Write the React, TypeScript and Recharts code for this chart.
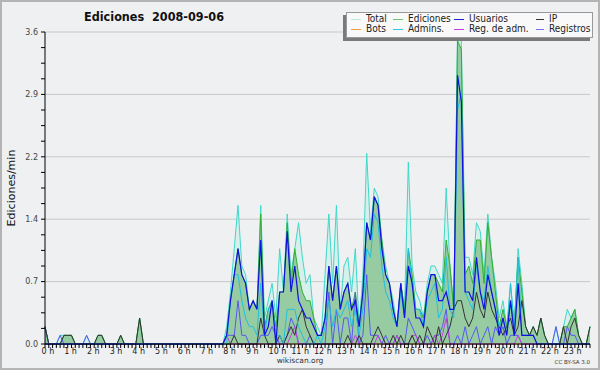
import React from "react";
import { ComposedChart, Area, Line, XAxis, YAxis, CartesianGrid } from "recharts";

// edits per 10-minute slot, one row per hour (6 slots), last value = 24:00
const total = [
  2, 0, 0, 0, 1, 1, 1, 1, 0, 0, 0, 1, 0, 0, 1, 1, 0, 0, 0, 0, 1, 0, 0, 0,
  0, 3, 0, 0, 0, 0, 0, 0, 0, 0, 0, 0, 0, 0, 0, 0, 0, 0, 0, 0, 0, 0, 0, 0,
  2, 6, 11, 16, 9, 8, 4, 5, 4, 16, 3, 5, 7, 3, 11, 6, 15, 8, 11, 14, 10, 7, 8, 3,
  2, 1, 8, 15, 7, 16, 4, 9, 10, 6, 11, 2, 8, 22, 13, 18, 17, 12, 9, 7, 5, 2, 7, 4,
  21, 9, 6, 5, 3, 7, 9, 9, 8, 7, 18, 9, 4, 36, 35, 10, 10, 8, 14, 13, 8, 15, 10, 7,
  3, 5, 2, 7, 2, 11, 7, 2, 1, 2, 1, 3, 1, 0, 0, 2, 0, 2, 4, 3, 4, 1, 0, 0,
  2,
];
const ediciones = [
  2, 0, 0, 0, 0, 1, 1, 1, 0, 0, 0, 0, 0, 0, 1, 1, 0, 0, 0, 0, 1, 0, 0, 0,
  0, 3, 0, 0, 0, 0, 0, 0, 0, 0, 0, 0, 0, 0, 0, 0, 0, 0, 0, 0, 0, 0, 0, 0,
  1, 5, 8, 11, 8, 7, 4, 5, 4, 15, 2, 4, 5, 2, 6, 6, 14, 7, 11, 8, 6, 5, 5, 3,
  1, 1, 3, 9, 5, 9, 4, 6, 7, 4, 6, 2, 6, 14, 12, 17, 16, 12, 8, 7, 4, 2, 7, 4,
  11, 8, 4, 4, 3, 6, 8, 8, 7, 6, 12, 9, 4, 35, 34, 8, 9, 7, 12, 12, 7, 14, 10, 6,
  2, 4, 2, 5, 2, 10, 6, 2, 1, 2, 1, 3, 1, 0, 0, 0, 0, 2, 2, 3, 4, 1, 0, 0,
  2,
];
const usuarios = [
  0, 0, 0, 0, 0, 0, 0, 0, 0, 0, 0, 0, 0, 0, 0, 0, 0, 0, 0, 0, 0, 0, 0, 0,
  0, 0, 0, 0, 0, 0, 0, 0, 0, 0, 0, 0, 0, 0, 0, 0, 0, 0, 0, 0, 0, 0, 0, 0,
  1, 5, 8, 11, 8, 7, 4, 5, 4, 12, 1, 2, 5, 0, 6, 6, 13, 6, 9, 5, 4, 3, 3, 2,
  1, 1, 3, 9, 5, 9, 4, 6, 7, 4, 5, 2, 6, 14, 12, 17, 16, 11, 8, 7, 4, 2, 7, 3,
  9, 7, 3, 3, 2, 6, 8, 8, 5, 5, 6, 4, 4, 31, 28, 6, 6, 5, 10, 6, 4, 8, 6, 4,
  1, 3, 1, 5, 1, 7, 1, 1, 1, 1, 0, 0, 0, 0, 0, 0, 0, 0, 0, 0, 0, 0, 0, 0,
  0,
];
const ip = [
  2, 0, 0, 0, 0, 1, 1, 1, 0, 0, 0, 0, 0, 0, 1, 1, 0, 0, 0, 0, 1, 0, 0, 0,
  0, 3, 0, 0, 0, 0, 0, 0, 0, 0, 0, 0, 0, 0, 0, 0, 0, 0, 0, 0, 0, 0, 0, 0,
  0, 0, 1, 0, 0, 0, 0, 0, 0, 3, 1, 0, 0, 0, 1, 0, 1, 2, 1, 3, 4, 2, 1, 0,
  0, 0, 0, 0, 0, 0, 0, 0, 1, 0, 0, 1, 0, 0, 0, 1, 2, 1, 0, 0, 1, 0, 1, 0,
  0, 1, 0, 1, 0, 2, 1, 0, 2, 0, 1, 2, 4, 5, 5, 3, 2, 3, 6, 4, 3, 6, 4, 3,
  2, 1, 2, 3, 1, 2, 5, 2, 1, 2, 1, 3, 1, 0, 0, 0, 0, 2, 0, 2, 3, 1, 0, 0,
  2,
];
const bots = [
  0, 0, 0, 0, 0, 0, 0, 0, 0, 0, 0, 0, 0, 0, 0, 0, 0, 0, 0, 0, 0, 0, 0, 0,
  0, 0, 0, 0, 0, 0, 0, 0, 0, 0, 0, 0, 0, 0, 0, 0, 0, 0, 0, 0, 0, 0, 0, 0,
  0, 0, 0, 0, 0, 0, 0, 0, 0, 0, 0, 0, 0, 0, 0, 0, 0, 0, 0, 0, 0, 0, 0, 0,
  0, 0, 0, 0, 0, 0, 0, 0, 0, 0, 0, 0, 0, 0, 0, 0, 0, 0, 0, 0, 0, 0, 0, 0,
  0, 0, 0, 0, 0, 0, 0, 0, 0, 0, 0, 0, 0, 0, 0, 0, 0, 0, 0, 0, 0, 0, 0, 0,
  0, 0, 0, 0, 0, 0, 0, 0, 0, 0, 0, 0, 0, 0, 0, 0, 0, 0, 0, 0, 0, 0, 0, 0,
  0,
];
const admins = [
  0, 0, 0, 0, 0, 0, 0, 0, 0, 0, 0, 0, 0, 0, 0, 0, 0, 0, 0, 0, 0, 0, 0, 0,
  0, 0, 0, 0, 0, 0, 0, 0, 0, 0, 0, 0, 0, 0, 0, 0, 0, 0, 0, 0, 0, 0, 0, 0,
  0, 5, 8, 8, 5, 3, 2, 2, 1, 7, 1, 4, 5, 1, 1, 0, 4, 4, 4, 2, 1, 0, 0, 0,
  1, 0, 2, 5, 2, 4, 3, 4, 5, 2, 4, 1, 4, 11, 10, 15, 14, 9, 6, 5, 3, 2, 6, 3,
  11, 7, 4, 4, 2, 5, 6, 7, 3, 4, 10, 4, 3, 27, 29, 6, 5, 4, 9, 6, 5, 9, 6, 4,
  2, 3, 1, 7, 2, 10, 1, 1, 1, 1, 0, 0, 0, 0, 0, 0, 0, 0, 0, 0, 0, 0, 0, 0,
  0,
];
const regAdm = [
  0, 0, 0, 0, 0, 0, 0, 0, 0, 0, 0, 0, 0, 0, 0, 0, 0, 0, 0, 0, 0, 0, 0, 0,
  0, 0, 0, 0, 0, 0, 0, 0, 0, 0, 0, 0, 0, 0, 0, 0, 0, 0, 0, 0, 0, 0, 0, 0,
  1, 0, 0, 0, 0, 0, 0, 0, 0, 0, 0, 0, 0, 0, 0, 0, 0, 1, 2, 0, 0, 0, 0, 0,
  0, 0, 0, 0, 0, 0, 0, 0, 0, 0, 1, 0, 0, 0, 0, 0, 1, 0, 0, 0, 0, 1, 0, 0,
  0, 1, 1, 0, 0, 0, 0, 1, 0, 1, 3, 0, 0, 0, 0, 0, 0, 0, 0, 0, 0, 0, 0, 0,
  0, 0, 0, 0, 0, 1, 0, 0, 0, 0, 0, 0, 0, 0, 0, 0, 0, 0, 0, 0, 0, 0, 0, 0,
  0,
];
const registros = [
  2, 0, 0, 0, 1, 0, 0, 0, 0, 0, 0, 1, 0, 0, 0, 0, 0, 0, 0, 0, 0, 0, 0, 0,
  0, 0, 0, 0, 0, 0, 0, 0, 0, 0, 0, 0, 0, 0, 0, 0, 0, 0, 0, 0, 0, 0, 0, 0,
  1, 1, 1, 5, 1, 1, 0, 0, 0, 1, 1, 1, 2, 1, 0, 0, 1, 3, 2, 0, 0, 0, 1, 0,
  0, 0, 0, 6, 0, 4, 0, 3, 3, 0, 6, 0, 1, 8, 1, 1, 1, 0, 1, 0, 0, 1, 0, 0,
  3, 2, 1, 0, 0, 1, 0, 1, 1, 2, 4, 0, 0, 1, 0, 2, 0, 1, 2, 0, 1, 2, 0, 2,
  1, 2, 0, 1, 1, 1, 0, 0, 0, 0, 0, 0, 0, 0, 0, 2, 0, 0, 2, 1, 1, 0, 0, 0,
  0,
];

const hourLabels = [
  "0 h", "1 h", "2 h", "3 h", "4 h", "5 h", "6 h", "7 h", "8 h", "9 h", "10 h", "11 h",
  "12 h", "13 h", "14 h", "15 h", "16 h", "17 h", "18 h", "19 h", "20 h", "21 h", "22 h", "23 h",
];
const yTicks = [
  0, 0.18, 0.36, 0.54, 0.72, 0.9, 1.08, 1.26, 1.44, 1.62, 1.8,
  1.98, 2.16, 2.34, 2.52, 2.7, 2.88, 3.06, 3.24, 3.42, 3.6,
];
const yGrid = [0.72, 1.44, 2.16, 2.88, 3.6];
const xTicks = total.map((_, k) => k);

const rows = total.map((t, i) => ({
  i,
  total: t / 10,
  ediciones: ediciones[i] / 10,
  usuarios: usuarios[i] / 10,
  ip: ip[i] / 10,
  bots: bots[i] / 10,
  admins: admins[i] / 10,
  regAdm: regAdm[i] / 10,
  registros: registros[i] / 10,
}));

const FONT = "'DejaVu Sans', sans-serif";
const FONT_C = "'DejaVu Sans Condensed', 'DejaVu Sans', sans-serif";

const legendItems = [
  { name: "Total", color: "#b4ebe3", x: 4, y: 0, w: 10 },
  { name: "Ediciones", color: "#6cc86c", x: 46, y: 0, w: 10 },
  { name: "Usuarios", color: "#2020d8", x: 107, y: 0, w: 10 },
  { name: "IP", color: "#333333", x: 189, y: 0, w: 8 },
  { name: "Bots", color: "#f0a040", x: 4, y: 10, w: 10 },
  { name: "Admins.", color: "#30c8e0", x: 46, y: 10, w: 10 },
  { name: "Reg. de adm.", color: "#c040e0", x: 107, y: 10, w: 10 },
  { name: "Registros", color: "#7070f0", x: 189, y: 10, w: 8 },
];

function HourTick(props: any) {
  const { x, y, payload } = props;
  const k = payload.value;
  if (k % 6 !== 0 || k >= 144) return <g />;
  return (
    <text x={x - 3.5} y={y} dy="0.78em" fontSize={8} fill="#222" fontFamily={FONT}>
      {hourLabels[k / 6]}
    </text>
  );
}

function LegendBox() {
  return (
    <div style={{ position: "absolute", left: 346, top: 12, width: 247, height: 26 }}>
      <div style={{ position: "absolute", left: -3, top: 3, width: 247, height: 26, background: "#7a7a7a" }} />
      <div
        style={{
          position: "absolute", left: 0, top: 0, width: 245, height: 24,
          background: "#f9f9f9", border: "1px solid #999",
        }}
      >
        {legendItems.map((it) => (
          <div key={it.name} style={{ position: "absolute", left: it.x, top: it.y + 1, height: 10, whiteSpace: "nowrap" }}>
            <span style={{ position: "absolute", left: 0, top: 5, width: it.w, height: 1, background: it.color }} />
            <span
              style={{
                position: "absolute", left: it.w + 5, top: -1, fontSize: 10, lineHeight: "12px",
                color: "#222", fontFamily: FONT_C,
              }}
            >
              {it.name}
            </span>
          </div>
        ))}
      </div>
    </div>
  );
}

export default function App() {
  return (
    <div style={{ position: "absolute", left: 0, top: 0, width: 600, height: 370, background: "#eef0f2", fontFamily: FONT }}>
      <ComposedChart width={600} height={370} data={rows} margin={{ top: 32, right: 10, bottom: 0, left: 0 }}>
        <CartesianGrid horizontal vertical={false} horizontalValues={yGrid} stroke="#c8c8c8" />
        <Area dataKey="total" type="linear" stroke="#40d8c8" strokeWidth={1} fill="#c8f0e8" fillOpacity={0.6} isAnimationActive={false} dot={false} activeDot={false} />
        <Area dataKey="ediciones" type="linear" stroke="#30b030" strokeWidth={1} fill="#58a858" fillOpacity={0.5} isAnimationActive={false} dot={false} activeDot={false} />
        <Line dataKey="bots" type="linear" stroke="#f0a040" strokeWidth={1} dot={false} activeDot={false} isAnimationActive={false} />
        <Line dataKey="registros" type="linear" stroke="#5858f0" strokeWidth={1} dot={false} activeDot={false} isAnimationActive={false} />
        <Line dataKey="regAdm" type="linear" stroke="#c040e0" strokeWidth={1} dot={false} activeDot={false} isAnimationActive={false} />
        <Line dataKey="ip" type="linear" stroke="#333333" strokeWidth={1} dot={false} activeDot={false} isAnimationActive={false} />
        <Line dataKey="admins" type="linear" stroke="#20c0e0" strokeWidth={1} dot={false} activeDot={false} isAnimationActive={false} />
        <Line dataKey="usuarios" type="linear" stroke="#1010e0" strokeWidth={1.2} dot={false} activeDot={false} isAnimationActive={false} />
        <XAxis
          type="number" dataKey="i" domain={[0, 144]} ticks={xTicks} interval={0}
          height={26} tickSize={4} tickMargin={0} tick={<HourTick />}
          axisLine={{ stroke: "#000" }} tickLine={{ stroke: "#000" }}
        />
        <YAxis
          type="number" domain={[0, 3.6]} ticks={yTicks} interval={0} width={45}
          tickSize={4} tickMargin={3}
          tickFormatter={(v: number, idx: number) => (idx % 4 === 0 ? v.toFixed(1) : "")}
          tick={{ fontSize: 8, fill: "#444", fontFamily: FONT }}
          axisLine={{ stroke: "#000" }} tickLine={{ stroke: "#000" }}
        />
      </ComposedChart>
      <div
        style={{
          position: "absolute", left: 0, top: 9, width: 308, textAlign: "center", fontSize: 12.5,
          lineHeight: "15px", fontWeight: "bold", color: "#111", whiteSpace: "pre", fontFamily: FONT_C,
        }}
      >
        {"Ediciones  2008-09-06"}
      </div>
      <div
        style={{
          position: "absolute", left: 11, top: 188, transform: "translate(-50%, -50%) rotate(-90deg)",
          fontSize: 11, color: "#111", whiteSpace: "nowrap",
        }}
      >
        Ediciones/min
      </div>
      <div style={{ position: "absolute", left: 250, width: 100, top: 356, lineHeight: "10px", textAlign: "center", fontSize: 7.5, color: "#333" }}>
        wikiscan.org
      </div>
      <div style={{ position: "absolute", right: 10, top: 358, lineHeight: "8px", fontSize: 5.5, color: "#333" }}>
        CC BY-SA 3.0
      </div>
      <LegendBox />
      <div
        style={{
          position: "absolute", left: 0, top: 0, width: 600, height: 370, boxSizing: "border-box",
          border: "2px solid #b4b4b4", pointerEvents: "none",
        }}
      />
    </div>
  );
}
